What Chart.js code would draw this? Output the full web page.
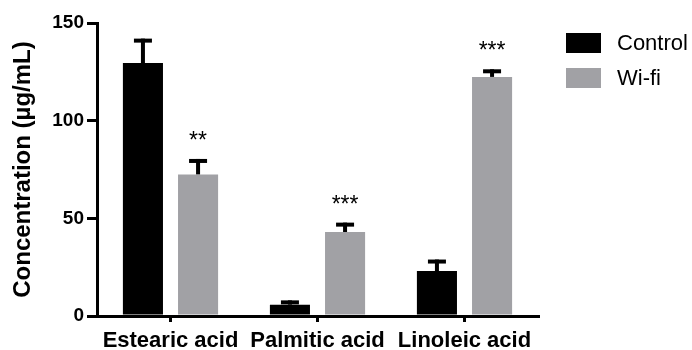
<!DOCTYPE html>
<html>
<head>
<meta charset="utf-8">
<title>Fatty acid concentration</title>
<script src="https://cdn.jsdelivr.net/npm/chart.js@4.4.1/dist/chart.umd.min.js"></script>
<style>
  html, body { margin: 0; padding: 0; background: #fff; }
  #wrap { width: 692px; height: 350px; position: relative; }
</style>
</head>
<body>
<div id="wrap"><canvas id="chart"></canvas></div>
<script>
// data
const categories = ['Estearic acid', 'Palmitic acid', 'Linoleic acid'];
const controlValues = [129.5, 5.8, 23.0];
const controlErrors = [12.5, 2.2, 5.9];
const wifiValues = [72.5, 43.0, 122.4];
const wifiErrors = [7.9, 4.8, 3.9];
const significance = ['**', '***', '***']; // marks above the Wi-fi bars
const yTicks = [0, 50, 100, 150];

const FONT = "'Liberation Sans', Arial, Helvetica, sans-serif";
Chart.defaults.font.family = FONT;
Chart.defaults.color = '#000';

// upper-only error bars + significance stars
const errorBars = {
  id: 'errorBars',
  afterDatasetsDraw(chart) {
    const ctx = chart.ctx;
    const y = chart.scales.y;
    ctx.save();
    chart.data.datasets.forEach((ds, di) => {
      const meta = chart.getDatasetMeta(di);
      meta.data.forEach((bar, i) => {
        const top = y.getPixelForValue(ds.data[i] + ds.errors[i]);
        ctx.fillStyle = '#000';
        ctx.fillRect(bar.x - 2, top, 4, bar.y - top);
        ctx.fillRect(bar.x - 9, top, 18, 4);
        if (ds.stars && ds.stars[i]) {
          ctx.font = '23px ' + FONT;
          ctx.textAlign = 'center';
          ctx.textBaseline = 'alphabetic';
          ctx.fillText(ds.stars[i], bar.x, top - 11);
        }
      });
    });
    ctx.restore();
  }
};

// legend drawn to the right like the original
const sideLegend = {
  id: 'sideLegend',
  afterDraw(chart) {
    const ctx = chart.ctx;
    ctx.save();
    ctx.font = '22px ' + FONT;
    ctx.textBaseline = 'middle';
    ctx.textAlign = 'left';
    chart.data.datasets.forEach((ds, i) => {
      const bx = 566, by = 33 + i * 35;
      ctx.fillStyle = ds.backgroundColor;
      ctx.fillRect(bx, by, 35, 20);
      ctx.fillStyle = '#000';
      ctx.fillText(ds.label, 617, by + 11);
    });
    ctx.restore();
  }
};

new Chart(document.getElementById('chart'), {
  type: 'bar',
  data: {
    labels: categories,
    datasets: [
      { label: 'Control', data: controlValues, errors: controlErrors, backgroundColor: '#000000' },
      { label: 'Wi-fi', data: wifiValues, errors: wifiErrors, stars: significance, backgroundColor: '#a1a1a5' }
    ]
  },
  options: {
    responsive: true,
    maintainAspectRatio: false,
    animation: false,
    categoryPercentage: 0.75,
    barPercentage: 0.727,
    layout: { padding: { top: 23, right: 154, left: 0, bottom: 0 } },
    plugins: {
      legend: { display: false },
      tooltip: { enabled: false }
    },
    scales: {
      x: {
        grid: { display: true, drawOnChartArea: false, offset: false, color: '#000', lineWidth: 3, tickLength: 6 },
        border: { display: true, color: '#000', width: 3 },
        ticks: { font: { size: 22, weight: 'bold' }, padding: 6, maxRotation: 0 },
        afterFit(scale) { scale.height = 34; }
      },
      y: {
        min: 0,
        max: 150,
        afterBuildTicks(scale) { scale.ticks = yTicks.map(v => ({ value: v })); },
        grid: { display: true, drawOnChartArea: false, color: '#000', lineWidth: 3, tickLength: 10 },
        border: { display: true, color: '#000', width: 3 },
        ticks: { font: { size: 19, weight: 'bold' }, padding: 3 },
        title: {
          display: true,
          text: 'Concentration (µg/mL)',
          font: { size: 24, weight: 'bold' },
          padding: { top: 9, bottom: 0 }
        },
        afterFit(scale) { scale.width = 97; }
      }
    }
  },
  plugins: [errorBars, sideLegend]
});
</script>
</body>
</html>
